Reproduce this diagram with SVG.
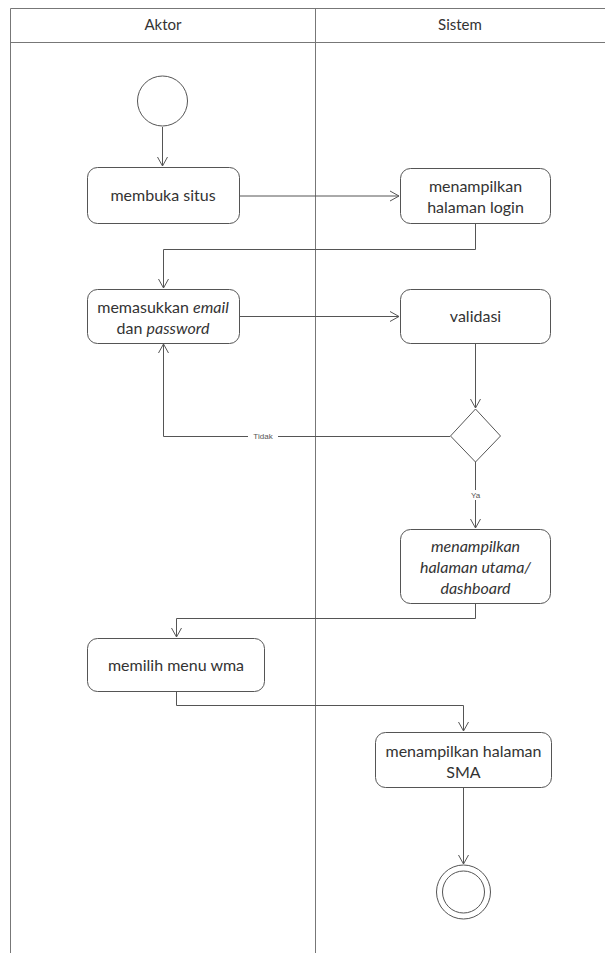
<svg xmlns="http://www.w3.org/2000/svg" width="605" height="953" viewBox="0 0 605 953">
<defs>
<style>
.lane{fill:none;stroke:#777;stroke-width:1}
.node{fill:#fff;stroke:#555;stroke-width:1}
.t{font-family:Lato,"Open Sans",sans-serif;font-size:16px;fill:#333;text-anchor:middle}
.i{font-style:italic}
.h{font-family:Lato,"Open Sans",sans-serif;font-size:15px;fill:#333;text-anchor:middle}
.s{font-family:"Liberation Sans",sans-serif;font-size:8px;fill:#555;text-anchor:middle}
.e{fill:none;stroke:#555;stroke-width:1;marker-end:url(#arr)}
</style>
<marker id="arr" markerWidth="12" markerHeight="12" refX="10" refY="6" orient="auto" markerUnits="userSpaceOnUse">
<path d="M1,1 L10,6 L1,11" fill="none" stroke="#555" stroke-width="1"/>
</marker>
</defs>
<rect width="605" height="953" fill="#fff"/>
<g id="swimlanes">
<path class="lane" d="M10.5,953 V8.5 H605 M10.5,42.5 H605 M315.5,8.5 V953"/>
<text class="h" x="163" y="30">Aktor</text>
<text class="h" x="460" y="30">Sistem</text>
</g>
<g id="connectors">
<path class="e" d="M162.5,127 V166"/>
<path class="e" d="M239,196 H399"/>
<path class="e" d="M475.5,223 V249.5 H163.5 V288"/>
<path class="e" d="M239,316.5 H399"/>
<path class="e" d="M475.5,343 V408"/>
<path class="e" d="M450,436.5 H163.5 V344"/>
<rect x="248" y="431" width="30" height="10" fill="#fff"/>
<text class="s" x="263" y="439">Tidak</text>
<path class="e" d="M475.5,462 V528"/>
<rect x="468" y="490" width="15" height="10" fill="#fff"/>
<text class="s" x="475.5" y="498">Ya</text>
<path class="e" d="M475.5,603 V618.5 H176.5 V637"/>
<path class="e" d="M176.5,691 V705.5 H463.5 V731"/>
<path class="e" d="M463.5,787 V864"/>
</g>
<g id="start"><circle class="node" cx="162.5" cy="101" r="25"/></g>
<g id="membuka-situs">
<rect class="node" x="87.5" y="167.5" width="152" height="56" rx="10"/>
<text class="t" x="163" y="201">membuka situs</text>
</g>
<g id="halaman-login">
<rect class="node" x="400.5" y="168.5" width="150" height="55" rx="10"/>
<text class="t" x="475.5" y="192">menampilkan</text>
<text class="t" x="475.5" y="213">halaman login</text>
</g>
<g id="memasukkan">
<rect class="node" x="87.5" y="289.5" width="152" height="54" rx="10"/>
<text class="t" x="163" y="313">memasukkan <tspan class="i">email</tspan></text>
<text class="t" x="163" y="334">dan <tspan class="i">password</tspan></text>
</g>
<g id="validasi">
<rect class="node" x="400.5" y="289.5" width="150" height="54" rx="10"/>
<text class="t" x="475.5" y="322">validasi</text>
</g>
<g id="decision">
<path class="node" d="M475.5,409 L500.5,436 L475.5,462 L450.5,436 Z"/>
</g>
<g id="dashboard">
<rect class="node" x="400.5" y="529.5" width="150" height="74" rx="10"/>
<text class="t i" x="475.5" y="552">menampilkan</text>
<text class="t i" x="475.5" y="573">halaman utama/</text>
<text class="t i" x="475.5" y="594">dashboard</text>
</g>
<g id="memilih-menu">
<rect class="node" x="87.5" y="638.5" width="177" height="53" rx="10"/>
<text class="t" x="176" y="671">memilih menu wma</text>
</g>
<g id="halaman-sma">
<rect class="node" x="375.5" y="732.5" width="176" height="55" rx="10"/>
<text class="t" x="463.5" y="757">menampilkan halaman</text>
<text class="t" x="463.5" y="778">SMA</text>
</g>
<g id="end">
<circle class="node" cx="463.5" cy="892" r="27"/>
<circle class="node" cx="463.5" cy="892" r="21"/>
</g>
</svg>
